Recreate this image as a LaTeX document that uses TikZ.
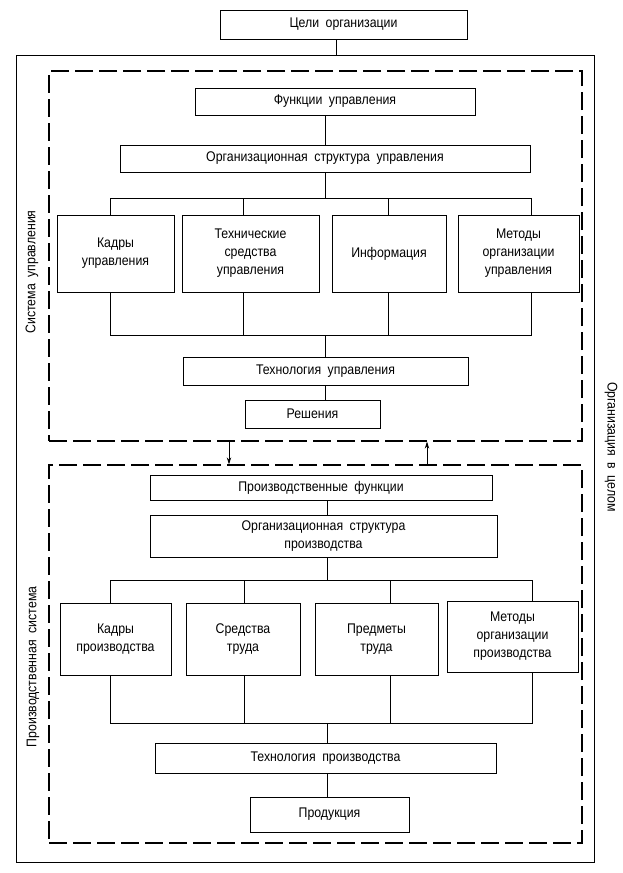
\documentclass[tikz,border=0pt]{standalone}
\usepackage{fontspec}
\setmainfont{Liberation Sans}[FakeStretch=0.88, WordSpace=1.9]
\usetikzlibrary{arrows.meta}
\begin{document}
\begin{tikzpicture}[x=1pt,y=-1pt,
  box/.style={draw, line width=0.8pt, inner sep=1pt, align=center,
    font=\fontsize{14}{18}\selectfont},
  frame/.style={draw, line width=0.8pt, inner sep=0pt},
  dframe/.style={draw, line width=1.3pt, dash pattern=on 18pt off 6pt, inner sep=0pt},
  conn/.style={line width=0.8pt},
  arr/.style={line width=0.8pt, -{Stealth[length=7pt,width=4.5pt]}},
  side/.style={font=\fontsize{14}{18}\selectfont, inner sep=0pt}]
\useasboundingbox (0,0) rectangle (623,873);
% frames
\node[frame, minimum width=578, minimum height=807] (outer) at (305,458.5) {};
\node[dframe, minimum width=533, minimum height=370] (dashU) at (315.5,256) {};
\node[dframe, minimum width=533, minimum height=378] (dashL) at (315.5,654) {};
% upper boxes
\node[box, minimum width=247, minimum height=29] (goals) at (343.5,24.5) {Цели организации};
\node[box, minimum width=280, minimum height=27] (funcU) at (335,101.5) {Функции управления};
\node[box, minimum width=410, minimum height=27] (orgU) at (325,158.5) {Организационная структура управления};
\node[box, minimum width=117, minimum height=77] (kadrU) at (115.5,253.5) {Кадры\\управления};
\node[box, minimum width=137, minimum height=77] (techU) at (250.5,253.5) {Технические\\средства\\управления};
\node[box, minimum width=114, minimum height=77] (infoU) at (389,253.5) {Информация};
\node[box, minimum width=121, minimum height=77] (methU) at (518.5,253.5) {Методы\\организации\\управления};
\node[box, minimum width=285, minimum height=28] (technoU) at (325.5,371) {Технология управления};
\node[box, minimum width=135, minimum height=28] (resh) at (312.5,414) {Решения};
% lower boxes
\node[box, minimum width=342, minimum height=25] (prodF) at (321,487.5) {Производственные функции};
\node[box, minimum width=347, minimum height=42] (orgP) at (323.5,536) {Организационная структура\\производства};
\node[box, minimum width=111, minimum height=72] (kadrP) at (115.5,639) {Кадры\\производства};
\node[box, minimum width=114, minimum height=72] (sredP) at (243,639) {Средства\\труда};
\node[box, minimum width=123, minimum height=72] (predP) at (376.5,639) {Предметы\\труда};
\node[box, minimum width=131, minimum height=71] (methP) at (512.5,636.5) {Методы\\организации\\производства};
\node[box, minimum width=341, minimum height=30] (technoP) at (325.5,758) {Технология производства};
\node[box, minimum width=159, minimum height=35] (prod) at (329.5,814.5) {Продукция};
% side labels
\node[side, rotate=90] (lblU) at (32,272) {Система управления};
\node[side, rotate=90] (lblL) at (33,667) {Производственная система};
\node[side, rotate=-90] (lblO) at (611,447) {Организация в целом};
% spine coordinates
\coordinate (sG) at (336,0);
\coordinate (sU) at (325,0);
\coordinate (sP) at (327,0);
% upper buses
\coordinate (ut1) at (110,198);
\coordinate (ut2) at (243,198);
\coordinate (ut3) at (388,198);
\coordinate (ut4) at (531,198);
\coordinate (ub1) at (110,335);
\coordinate (ub2) at (243,335);
\coordinate (ub3) at (388,335);
\coordinate (ub4) at (531,335);
% lower buses
\coordinate (lt1) at (110,580);
\coordinate (lt2) at (244,580);
\coordinate (lt3) at (390,580);
\coordinate (lt4) at (532,580);
\coordinate (lb1) at (110,723);
\coordinate (lb2) at (244,723);
\coordinate (lb3) at (390,723);
\coordinate (lb4) at (532,723);
% connectors
\draw[conn] (goals.south -| sG) -- (outer.north -| sG);
\draw[conn] (funcU.south -| sU) -- (orgU.north -| sU);
\draw[conn] (orgU.south -| sU) -- (sU |- ut1);
\draw[conn] (kadrU.north -| ut1) -- (ut1) -- (ut4) -- (methU.north -| ut4);
\draw[conn] (ut2) -- (techU.north -| ut2);
\draw[conn] (ut3) -- (infoU.north -| ut3);
\draw[conn] (kadrU.south -| ub1) -- (ub1) -- (ub4) -- (methU.south -| ub4);
\draw[conn] (ub2) -- (techU.south -| ub2);
\draw[conn] (ub3) -- (infoU.south -| ub3);
\draw[conn] (sU |- ub1) -- (technoU.north -| sU);
\draw[conn] (technoU.south -| sU) -- (resh.north -| sU);
\draw[arr] (dashU.south -| 229,0) -- (dashL.north -| 229,0);
\draw[arr] (dashL.north -| 427,0) -- (dashU.south -| 427,0);
\draw[conn] (prodF.south -| sP) -- (orgP.north -| sP);
\draw[conn] (orgP.south -| sP) -- (sP |- lt1);
\draw[conn] (kadrP.north -| lt1) -- (lt1) -- (lt4) -- (methP.north -| lt4);
\draw[conn] (lt2) -- (sredP.north -| lt2);
\draw[conn] (lt3) -- (predP.north -| lt3);
\draw[conn] (kadrP.south -| lb1) -- (lb1) -- (lb4) -- (methP.south -| lb4);
\draw[conn] (lb2) -- (sredP.south -| lb2);
\draw[conn] (lb3) -- (predP.south -| lb3);
\draw[conn] (sP |- lb1) -- (technoP.north -| sP);
\draw[conn] (technoP.south -| sP) -- (prod.north -| sP);
\end{tikzpicture}
\end{document}
